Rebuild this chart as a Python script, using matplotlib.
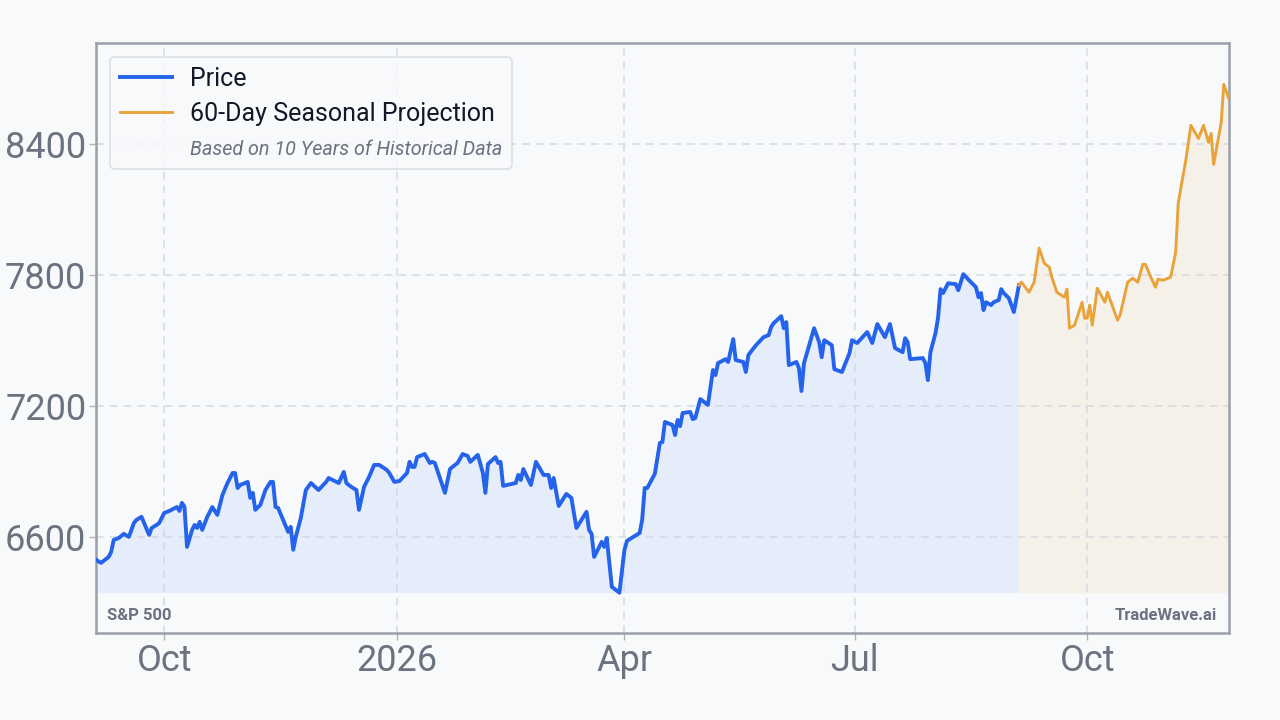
import pandas as pd
import matplotlib.pyplot as plt
import matplotlib.dates as mdates
from matplotlib.lines import Line2D

plt.rcParams['font.family'] = ['Roboto', 'DejaVu Sans']

bg = '#f8f9fb'
blue = '#2563eb'
orange = '#e8a33a'
grey = '#6b7280'

price_dates = [
    '2025-09-04', '2025-09-06', '2025-09-09', '2025-09-10', '2025-09-11', '2025-09-13',
    '2025-09-15', '2025-09-17', '2025-09-19', '2025-09-20', '2025-09-22', '2025-09-23',
    '2025-09-25', '2025-09-26', '2025-09-28', '2025-09-29', '2025-10-01', '2025-10-03',
    '2025-10-06', '2025-10-07', '2025-10-08', '2025-10-09', '2025-10-10', '2025-10-12',
    '2025-10-13', '2025-10-14', '2025-10-15', '2025-10-16', '2025-10-18', '2025-10-20',
    '2025-10-22', '2025-10-24', '2025-10-26', '2025-10-28', '2025-10-29', '2025-10-30',
    '2025-10-31', '2025-11-03', '2025-11-04', '2025-11-05', '2025-11-06', '2025-11-08',
    '2025-11-10', '2025-11-12', '2025-11-13', '2025-11-14', '2025-11-15', '2025-11-17',
    '2025-11-19', '2025-11-20', '2025-11-21', '2025-11-22', '2025-11-24', '2025-11-26',
    '2025-11-28', '2025-12-01', '2025-12-04', '2025-12-05', '2025-12-09', '2025-12-11',
    '2025-12-12', '2025-12-14', '2025-12-16', '2025-12-17', '2025-12-19', '2025-12-21',
    '2025-12-23', '2025-12-25', '2025-12-28', '2025-12-29', '2025-12-31', '2026-01-02',
    '2026-01-05', '2026-01-06', '2026-01-07', '2026-01-08', '2026-01-09', '2026-01-12',
    '2026-01-14', '2026-01-15', '2026-01-16', '2026-01-20', '2026-01-22', '2026-01-23',
    '2026-01-25', '2026-01-27', '2026-01-29', '2026-01-30', '2026-02-02', '2026-02-04',
    '2026-02-05', '2026-02-06', '2026-02-09', '2026-02-10', '2026-02-11', '2026-02-12',
    '2026-02-17', '2026-02-18', '2026-02-19', '2026-02-20', '2026-02-23', '2026-02-25',
    '2026-02-28', '2026-03-02', '2026-03-03', '2026-03-04', '2026-03-06', '2026-03-09',
    '2026-03-11', '2026-03-13', '2026-03-17', '2026-03-18', '2026-03-19', '2026-03-20',
    '2026-03-23', '2026-03-24', '2026-03-25', '2026-03-27', '2026-03-30', '2026-04-01',
    '2026-04-02', '2026-04-07', '2026-04-08', '2026-04-09', '2026-04-10', '2026-04-13',
    '2026-04-15', '2026-04-16', '2026-04-17', '2026-04-20', '2026-04-21', '2026-04-22',
    '2026-04-23', '2026-04-24', '2026-04-27', '2026-04-28', '2026-04-29', '2026-05-01',
    '2026-05-04', '2026-05-06', '2026-05-07', '2026-05-08', '2026-05-11', '2026-05-12',
    '2026-05-14', '2026-05-15', '2026-05-18', '2026-05-19', '2026-05-20', '2026-05-23',
    '2026-05-26', '2026-05-28', '2026-05-29', '2026-05-30', '2026-06-02', '2026-06-03',
    '2026-06-04', '2026-06-05', '2026-06-08', '2026-06-09', '2026-06-10', '2026-06-11',
    '2026-06-15', '2026-06-17', '2026-06-18', '2026-06-19', '2026-06-22', '2026-06-23',
    '2026-06-26', '2026-06-29', '2026-06-30', '2026-07-02', '2026-07-06', '2026-07-08',
    '2026-07-10', '2026-07-13', '2026-07-15', '2026-07-17', '2026-07-20', '2026-07-21',
    '2026-07-22', '2026-07-23', '2026-07-28', '2026-07-29', '2026-07-30', '2026-07-31',
    '2026-08-02', '2026-08-03', '2026-08-04', '2026-08-05', '2026-08-07', '2026-08-10',
    '2026-08-11', '2026-08-13', '2026-08-16', '2026-08-18', '2026-08-19', '2026-08-20',
    '2026-08-21', '2026-08-22', '2026-08-24', '2026-08-25', '2026-08-27', '2026-08-28',
    '2026-08-29', '2026-08-31', '2026-09-02', '2026-09-04',
]
price_values = [
    6495, 6481, 6508, 6531, 6586, 6595,
    6614, 6600, 6664, 6678, 6692, 6664,
    6609, 6641, 6655, 6664, 6710, 6719,
    6737, 6719, 6756, 6737, 6554, 6632,
    6655, 6641, 6669, 6632, 6692, 6737,
    6701, 6792, 6847, 6893, 6893, 6824,
    6838, 6852, 6779, 6802, 6724, 6747,
    6815, 6852, 6852, 6737, 6733, 6678,
    6623, 6646, 6541, 6600, 6687, 6815,
    6847, 6815, 6852, 6870, 6847, 6898,
    6847, 6829, 6815, 6724, 6829, 6875,
    6930, 6930, 6907, 6893, 6852, 6856,
    6893, 6944, 6921, 6921, 6966, 6980,
    6939, 6944, 6939, 6802, 6911, 6921,
    6939, 6980, 6971, 6944, 6976, 6893,
    6802, 6934, 6966, 6939, 6944, 6834,
    6847, 6884, 6861, 6911, 6838, 6944,
    6884, 6884, 6824, 6870, 6742, 6797,
    6779, 6641, 6715, 6632, 6614, 6508,
    6577, 6554, 6595, 6371, 6344, 6541,
    6582, 6618, 6678, 6824, 6824, 6889,
    7031, 7035, 7127, 7113, 7067, 7136,
    7108, 7168, 7173, 7140, 7145, 7232,
    7205, 7365, 7342, 7397, 7415, 7402,
    7507, 7411, 7402, 7356, 7434, 7479,
    7516, 7525, 7562, 7580, 7612, 7557,
    7585, 7388, 7402, 7374, 7269, 7397,
    7557, 7493, 7424, 7502, 7479, 7369,
    7356, 7443, 7502, 7489, 7539, 7489,
    7576, 7516, 7576, 7466, 7447, 7511,
    7493, 7415, 7420, 7397, 7319, 7447,
    7534, 7603, 7736, 7718, 7763, 7759,
    7731, 7805, 7768, 7745, 7699, 7718,
    7640, 7676, 7663, 7676, 7686, 7736,
    7718, 7695, 7631, 7754,
]

proj_dates = [
    '2026-09-04', '2026-09-05', '2026-09-08', '2026-09-10', '2026-09-12', '2026-09-14',
    '2026-09-16', '2026-09-17', '2026-09-19', '2026-09-22', '2026-09-23', '2026-09-24',
    '2026-09-26', '2026-09-29', '2026-09-30', '2026-10-01', '2026-10-02', '2026-10-03',
    '2026-10-05', '2026-10-08', '2026-10-09', '2026-10-13', '2026-10-14', '2026-10-17',
    '2026-10-19', '2026-10-21', '2026-10-23', '2026-10-24', '2026-10-26', '2026-10-28',
    '2026-10-29', '2026-10-31', '2026-11-03', '2026-11-05', '2026-11-06', '2026-11-07',
    '2026-11-09', '2026-11-11', '2026-11-14', '2026-11-16', '2026-11-18', '2026-11-19',
    '2026-11-20', '2026-11-23', '2026-11-24', '2026-11-26',
]
proj_values = [
    7754, 7768, 7722, 7768, 7924, 7855,
    7837, 7791, 7722, 7699, 7736, 7557,
    7571, 7676, 7603, 7603, 7663, 7571,
    7740, 7676, 7722, 7594, 7617, 7768,
    7786, 7768, 7850, 7850, 7795, 7745,
    7782, 7777, 7791, 7905, 8130, 8198,
    8327, 8487, 8427, 8487, 8409, 8450,
    8308, 8501, 8675, 8611,
]

yticks = [6600, 7200, 7800, 8400]


def main():
    px = pd.to_datetime(price_dates)
    pj = pd.to_datetime(proj_dates)
    base = min(min(price_values), min(proj_values))
    top = max(max(price_values), max(proj_values))
    rng = top - base

    fig = plt.figure(figsize=(12.8, 7.2), dpi=100)
    fig.patch.set_facecolor(bg)
    ax = fig.add_axes([0.075, 0.121, 0.885, 0.819])
    ax.set_facecolor(bg)

    ax.fill_between(px, price_values, base, color='#e4edf9', lw=0)
    ax.fill_between(pj, proj_values, base, color='#f5f0e8', lw=0)
    ax.plot(px, price_values, color=blue, lw=2.8, solid_joinstyle='round', zorder=3)
    ax.plot(pj, proj_values, color=orange, lw=2.1, solid_joinstyle='round', zorder=3)

    ax.set_xlim(px[0], pj[-1])
    ax.set_ylim(base - 0.079 * rng, top + 0.081 * rng)
    ax.set_yticks(yticks)

    ax.xaxis.set_major_locator(mdates.MonthLocator(bymonth=[1, 4, 7, 10]))
    ax.xaxis.set_major_formatter(plt.FuncFormatter(
        lambda v, p: mdates.num2date(v).strftime('%Y' if mdates.num2date(v).month == 1 else '%b')))

    ax.grid(True, color='#d5d9e0', ls=(0, (5, 4)), lw=1.1)
    ax.tick_params(labelsize=26, colors=grey, length=5, width=1, pad=2)
    ax.tick_params(color='#b0b5bd')
    for sp in ax.spines.values():
        sp.set_color('#9aa0aa')
        sp.set_linewidth(1.8)

    handles = [Line2D([], [], color=blue, lw=2.8),
               Line2D([], [], color=orange, lw=2.1),
               Line2D([], [], color='none')]
    labels = ['Price', '60-Day Seasonal Projection', 'Based on 10 Years of Historical Data']
    leg = ax.legend(handles, labels, loc='upper left', fontsize=18, frameon=True,
                    handlelength=2.1, handletextpad=0.7, labelspacing=0.45,
                    borderpad=0.4, borderaxespad=0.55, fancybox=True)
    leg.get_frame().set_facecolor(bg)
    leg.get_frame().set_edgecolor('#d5d9e0')
    leg.get_frame().set_linewidth(1.2)
    for t in leg.get_texts():
        t.set_color('#111827')
    note = leg.get_texts()[2]
    note.set_fontstyle('italic')
    note.set_fontsize(14.2)
    note.set_color(grey)

    ax.text(0.0095, 0.03, 'S&P 500', transform=ax.transAxes, fontsize=12,
            fontweight='bold', color=grey, ha='left', va='center')
    ax.text(0.9894, 0.03, 'TradeWave.ai', transform=ax.transAxes, fontsize=12,
            fontweight='bold', color=grey, ha='right', va='center')

    fig.savefig('out.png', dpi=100, facecolor=bg)


if __name__ == "__main__":
    main()
